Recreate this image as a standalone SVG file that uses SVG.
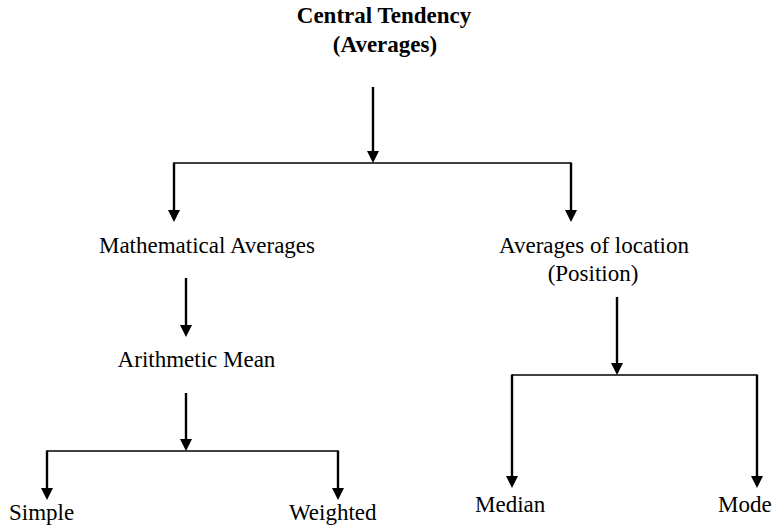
<svg xmlns="http://www.w3.org/2000/svg" width="775" height="530" viewBox="0 0 775 530">
<style>
  .t { font-family: "Liberation Serif", "Times New Roman", serif; font-size: 23px; fill: #000; }
  .b { font-weight: bold; }
  .h { stroke: #000; stroke-width: 1.6; fill: none; }
  .a { stroke: #000; stroke-width: 2.4; fill: none; marker-end: url(#ah); }
</style>
<defs>
  <marker id="ah" viewBox="0 0 12 12" refX="6" refY="6" markerWidth="12" markerHeight="12" markerUnits="userSpaceOnUse" orient="auto">
    <path d="M0,0 L12,6 L0,12 z" fill="#000"/>
  </marker>
</defs>
<rect width="775" height="530" fill="#fff"/>
<g id="connectors">
  <line class="h" x1="174" y1="163" x2="571" y2="163"/>
  <line class="h" x1="47" y1="451" x2="338" y2="451"/>
  <line class="h" x1="512" y1="375" x2="757" y2="375"/>
  <line class="a" x1="373" y1="87" x2="373" y2="157"/>
  <line class="a" x1="174" y1="162.5" x2="174" y2="216"/>
  <line class="a" x1="571" y1="162.5" x2="571" y2="216"/>
  <line class="a" x1="186" y1="278" x2="186" y2="331"/>
  <line class="a" x1="186" y1="393" x2="186" y2="445"/>
  <line class="a" x1="47" y1="450.5" x2="47" y2="494"/>
  <line class="a" x1="338" y1="450.5" x2="338" y2="494"/>
  <line class="a" x1="617" y1="297" x2="617" y2="369"/>
  <line class="a" x1="512" y1="374.5" x2="512" y2="482"/>
  <line class="a" x1="757" y1="374.5" x2="757" y2="482"/>
</g>
<g id="central">
  <text class="t b" x="384" y="23" text-anchor="middle">Central Tendency</text>
  <text class="t b" x="385" y="52" text-anchor="middle">(Averages)</text>
</g>
<g id="mathematical">
  <text class="t" x="207" y="253" text-anchor="middle">Mathematical Averages</text>
</g>
<g id="location">
  <text class="t" x="594" y="253" text-anchor="middle">Averages of location</text>
  <text class="t" x="593" y="281" text-anchor="middle">(Position)</text>
</g>
<g id="arithmetic">
  <text class="t" x="196.5" y="367" text-anchor="middle">Arithmetic Mean</text>
</g>
<g id="simple">
  <text class="t" x="9" y="520">Simple</text>
</g>
<g id="weighted">
  <text class="t" x="289" y="520">Weighted</text>
</g>
<g id="median">
  <text class="t" x="475" y="512">Median</text>
</g>
<g id="mode">
  <text class="t" x="718" y="512">Mode</text>
</g>
</svg>
